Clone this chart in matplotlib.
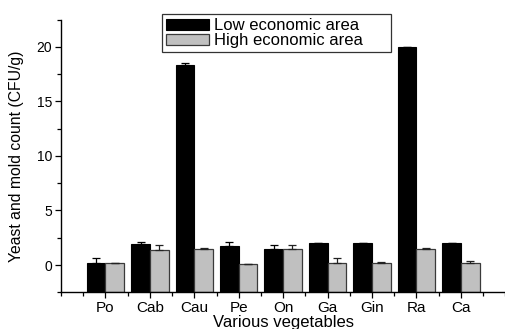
import numpy as np
import matplotlib
matplotlib.use("Agg")
import matplotlib.pyplot as plt
from matplotlib.ticker import MultipleLocator

plt.rcParams['font.family'] = ['Liberation Sans', 'DejaVu Sans']

# --- DATA ---
vegetables = ["Po", "Cab", "Cau", "Pe", "On", "Ga", "Gin", "Ra", "Ca"]
low_area = [0.15, 1.9, 18.35, 1.77, 1.44, 2.0, 2.0, 20.0, 2.0]
low_err = [0.45, 0.2, 0.2, 0.37, 0.39, 0.0, 0.0, 0.0, 0.0]
high_area = [0.15, 1.38, 1.5, 0.12, 1.44, 0.15, 0.15, 1.44, 0.15]
high_err = [0.05, 0.42, 0.07, 0.0, 0.39, 0.45, 0.1, 0.12, 0.22]

x = np.arange(1, len(vegetables) + 1)
w = 0.42
base = -2.5  # bars rise from the bottom of the axis

fig = plt.figure(figsize=(5.06, 3.29), dpi=100)
ax = fig.add_axes([0.1206, 0.1115, 0.878, 0.8292])

ax.bar(x - w / 2, np.array(low_area) - base, w, bottom=base, color='black',
       edgecolor='black', linewidth=0.8, label='Low economic area', zorder=2)
ax.bar(x + w / 2, np.array(high_area) - base, w, bottom=base, color='#c0c0c0',
       edgecolor='#3a3a3a', linewidth=0.9, label='High economic area', zorder=2)

# only the upper half of each error bar is shown
ax.errorbar(x - w / 2, low_area, yerr=[np.zeros(len(x)), low_err], fmt='none',
            ecolor='black', elinewidth=0.9, capsize=3, capthick=0.9, zorder=3)
ax.errorbar(x + w / 2, high_area, yerr=[np.zeros(len(x)), high_err], fmt='none',
            ecolor='#222222', elinewidth=0.9, capsize=3, capthick=0.9, zorder=3)

ax.set_xlim(0, 10)
ax.set_ylim(-2.5, 22.5)
ax.set_xticks(x)
ax.set_xticklabels(vegetables, fontsize=11)
ax.xaxis.set_minor_locator(MultipleLocator(0.5))
ax.yaxis.set_major_locator(MultipleLocator(5))
ax.yaxis.set_minor_locator(MultipleLocator(2.5))
ax.tick_params(axis='y', labelsize=10)
ax.tick_params(which='major', direction='out', length=4.5, width=0.9, pad=2)
ax.tick_params(which='minor', direction='out', length=3, width=0.9)

ax.spines['top'].set_visible(False)
ax.spines['right'].set_visible(False)
ax.spines['left'].set_linewidth(1.0)
ax.spines['bottom'].set_linewidth(1.0)

ax.set_xlabel('Various vegetables', fontsize=12, labelpad=0)
ax.set_ylabel('Yeast and mold count (CFU/g)', fontsize=11.3, labelpad=9)

# legend box stretched to a fixed width, like the original plot's frame
leg = ax.legend(loc='upper left', mode='expand',
                bbox_to_anchor=(162 / 506, 1 - 56 / 329, 229 / 506, 42 / 329),
                bbox_transform=fig.transFigure, borderaxespad=0, fontsize=12,
                handlelength=2.55, handleheight=0.6, handletextpad=0.3,
                labelspacing=0.0, borderpad=0.25, fancybox=False, framealpha=1)
leg.get_frame().set_edgecolor('#333333')
leg.get_frame().set_linewidth(0.9)

fig.savefig('out.png', dpi=100)
